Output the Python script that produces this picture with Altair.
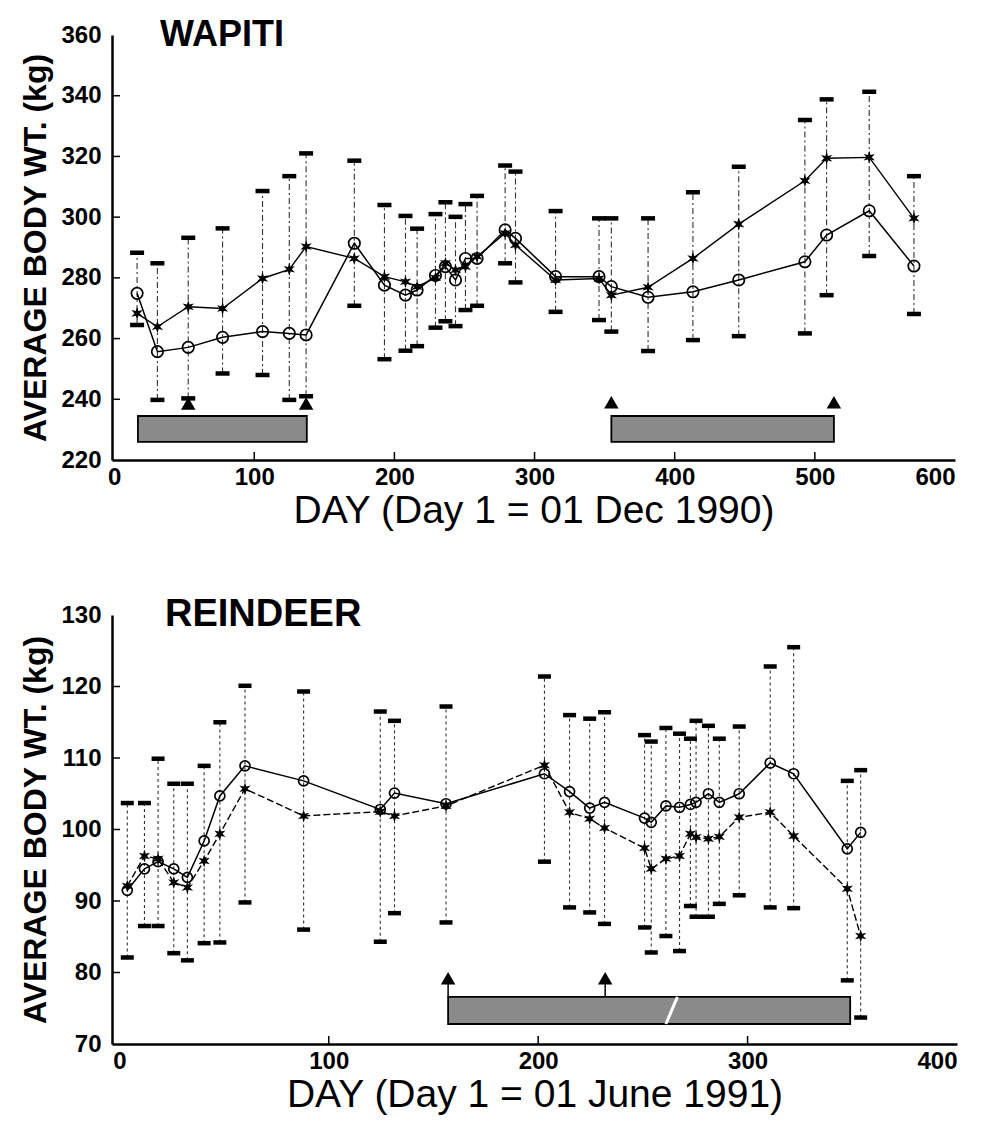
import altair as alt
import pandas as pd

FONT = "Liberation Sans"
# six-pointed star glyph used for the second series
STAR = ("M0,-1 L0.2,-0.346 L0.866,-0.5 L0.4,0 L0.866,0.5 L0.2,0.346 L0,1 "
        "L-0.2,0.346 L-0.866,0.5 L-0.4,0 L-0.866,-0.5 L-0.2,-0.346 Z")

# ---------------- Wapiti (Day 1 = 01 Dec 1990) ----------------
w_day = [16.4, 30.9, 52.9, 77.4, 105.9, 125.0, 137.0, 171.4, 192.9, 207.9, 216.2,
         229.3, 236.4, 243.6, 250.7, 259.0, 279.0, 286.4, 315.0, 346.0, 354.8,
         381.0, 413.0, 445.7, 492.9, 508.4, 538.8, 570.7]
w_circle = [274.9, 255.7, 257.1, 260.4, 262.3, 261.7, 261.2, 291.4, 277.6, 274.3,
            276.0, 280.8, 283.7, 279.3, 286.4, 286.4, 295.8, 293.0, 280.4, 280.4,
            277.1, 273.6, 275.4, 279.3, 285.3, 294.1, 302.1, 283.9]
w_star = [268.3, 263.9, 270.5, 269.9, 279.8, 282.8, 290.3, 286.4, 280.4, 278.7,
          277.1, 280.0, 284.8, 282.6, 283.7, 287.0, 294.7, 290.8, 279.3, 279.8,
          274.3, 276.9, 286.4, 297.7, 312.0, 319.4, 319.7, 299.6]
w_low = [264.5, 239.8, 240.3, 248.5, 248.0, 239.8, 241.0, 270.8, 253.2, 256.0,
         257.5, 263.6, 265.7, 264.1, 269.4, 270.8, 284.8, 278.5, 268.8, 266.1,
         262.3, 255.9, 259.5, 260.8, 261.7, 274.3, 287.2, 268.1]
w_high = [288.3, 284.8, 293.2, 296.3, 308.6, 313.5, 321.0, 318.6, 304.0, 300.4,
          296.2, 301.0, 304.9, 300.1, 304.3, 307.0, 317.0, 315.0, 302.0, 299.6,
          299.6, 299.6, 308.2, 316.6, 332.0, 338.8, 341.3, 313.5]
w_band_start = [17.0, 354.8]
w_band_end = [137.5, 513.6]
w_band_bottom = [226.0, 226.0]
w_band_top = [234.5, 234.5]
w_arrow_day = [52.9, 137.0, 354.8, 513.6]
w_arrow_val = [238.6, 238.6, 239.0, 239.0]
w_arrow_foot = [238.6, 238.6, 239.0, 239.0]
w_slash_day = []
w_slash_val = []
w_xticks = [0, 100, 200, 300, 400, 500, 600]
w_yticks = [220, 240, 260, 280, 300, 320, 340, 360]

# ---------------- Reindeer (Day 1 = 01 June 1991) ----------------
r_day = [3.8, 12.0, 18.5, 26.0, 32.5, 40.5, 48.0, 60.0, 88.0, 124.6, 131.4, 156.0,
         203.0, 215.0, 224.6, 231.7, 250.8, 254.0, 261.0, 267.5, 272.7, 275.4,
         281.3, 286.5, 296.0, 310.8, 322.0, 347.6, 354.0]
r_circle = [91.5, 94.5, 95.5, 94.5, 93.3, 98.4, 104.7, 108.9, 106.8, 102.8, 105.1,
            103.6, 107.8, 105.3, 103.0, 103.8, 101.6, 101.0, 103.3, 103.1, 103.5,
            103.8, 105.0, 103.8, 105.0, 109.3, 107.8, 97.3, 99.6]
r_star = [92.1, 96.3, 95.9, 92.6, 91.9, 95.6, 99.4, 105.7, 101.9, 102.5, 101.9,
          103.3, 109.0, 102.4, 101.5, 100.2, 97.4, 94.5, 95.9, 96.3, 99.4, 98.9,
          98.7, 99.0, 101.7, 102.4, 99.1, 91.7, 85.1]
r_low = [82.1, 86.5, 86.5, 82.7, 81.7, 84.1, 84.2, 89.8, 86.0, 84.3, 88.3, 87.0,
         95.5, 89.1, 88.4, 86.8, 86.3, 82.8, 85.1, 83.0, 89.3, 87.8, 87.8, 89.6,
         90.8, 89.1, 89.0, 78.9, 73.7]
r_high = [103.7, 103.7, 109.9, 106.4, 106.4, 108.9, 115.0, 120.1, 119.3, 116.5,
          115.2, 117.2, 121.4, 116.0, 115.5, 116.4, 113.2, 112.3, 114.2, 113.4,
          112.7, 115.2, 114.5, 112.7, 114.4, 122.8, 125.5, 106.8, 108.3]
r_band_start = [157.0]
r_band_end = [349.0]
r_band_bottom = [72.8]
r_band_top = [76.6]
r_arrow_day = [157.0, 232.0]
r_arrow_val = [79.2, 79.2]
r_arrow_foot = [76.6, 76.6]
r_slash_day = [261.0, 266.5]
r_slash_val = [72.8, 76.6]
r_xticks = [0, 100, 200, 300, 400]
r_yticks = [70, 80, 90, 100, 110, 120, 130]


def panel(name, name_size, name_x, xtitle, day, circ, star, low, high,
          b_start, b_end, b_bot, b_top, a_day, a_val, a_foot, s_day, s_val,
          xticks, yticks, x_start, w, h, cap_w, circ_size, star_dashed, err_dash):
    xs = alt.Scale(domain=[x_start, xticks[-1]], nice=False, zero=False)
    ys = alt.Scale(domain=[yticks[0], yticks[-1]], nice=False, zero=False)
    xaxis = alt.Axis(values=xticks, title=xtitle)
    yaxis = alt.Axis(values=yticks, title="AVERAGE BODY WT. (kg)")

    def X(f):
        return alt.X(f, type="quantitative", scale=xs, axis=xaxis)

    def Y(f):
        return alt.Y(f, type="quantitative", scale=ys, axis=yaxis)

    df = pd.DataFrame({"day": day, "circle": circ, "star": star,
                       "low": low, "high": high})
    bands = pd.DataFrame({"s": b_start, "e": b_end, "b": b_bot, "t": b_top})
    arrows = pd.DataFrame({"day": a_day, "v": a_val, "foot": a_foot})
    xt = pd.DataFrame({"v": xticks[1:-1]})
    yt = pd.DataFrame({"v": yticks[1:-1]})
    label = pd.DataFrame({"t": [name]})

    base = alt.Chart(df)
    err = base.mark_rule(color="#333333", strokeWidth=1.1, strokeDash=err_dash).encode(
        x=X("day"), y=Y("low"), y2="high")
    cap_lo = base.mark_tick(orient="horizontal", size=cap_w, thickness=4.5,
                            color="black", opacity=1).encode(x=X("day"), y=Y("low"))
    cap_hi = base.mark_tick(orient="horizontal", size=cap_w, thickness=4.5,
                            color="black", opacity=1).encode(x=X("day"), y=Y("high"))
    line_c = base.mark_line(color="black", strokeWidth=1.5).encode(x=X("day"), y=Y("circle"))
    if star_dashed:
        line_s = base.mark_line(color="black", strokeWidth=1.4, strokeDash=[7, 3])
    else:
        line_s = base.mark_line(color="black", strokeWidth=1.4)
    line_s = line_s.encode(x=X("day"), y=Y("star"))
    pt_c = base.mark_point(shape="circle", size=circ_size, filled=False, color="black",
                           strokeWidth=1.7, opacity=1).encode(x=X("day"), y=Y("circle"))
    pt_s = base.mark_point(shape=STAR, size=170, filled=True, color="black",
                           opacity=1).encode(x=X("day"), y=Y("star"))
    band = alt.Chart(bands).mark_rect(fill="#8a8a8a", stroke="black", strokeWidth=1.8).encode(
        x=X("s"), x2="e", y=Y("b"), y2="t")
    stem = alt.Chart(arrows).mark_rule(color="black", strokeWidth=1.5).encode(
        x=X("day"), y=Y("v"), y2="foot")
    arrow = alt.Chart(arrows).mark_point(shape="triangle-up", size=210, filled=True,
                                         color="black", opacity=1).encode(x=X("day"), y=Y("v"))
    # inward tick marks along both axes
    xtick = alt.Chart(xt).mark_rule(color="black", strokeWidth=1.5).encode(
        x=X("v"), y=alt.value(h), y2=alt.value(h - 8))
    ytick = alt.Chart(yt).mark_rule(color="black", strokeWidth=1.5).encode(
        y=Y("v"), x=alt.value(0), x2=alt.value(8))
    title = alt.Chart(label).mark_text(font=FONT, fontSize=name_size, fontWeight="bold",
                                       align="left", baseline="alphabetic",
                                       color="black").encode(
        text="t:N", x=alt.value(name_x), y=alt.value(11))

    layers = [band]
    if s_day:
        slash = pd.DataFrame({"d0": [s_day[0]], "d1": [s_day[1]],
                              "v0": [s_val[0]], "v1": [s_val[1]]})
        layers.append(alt.Chart(slash).mark_rule(color="white", strokeWidth=3).encode(
            x=X("d0"), x2="d1", y=Y("v0"), y2="v1"))
    layers += [err, cap_lo, cap_hi, line_c, line_s, pt_c, pt_s, stem, arrow,
               xtick, ytick, title]
    return alt.layer(*layers).properties(width=w, height=h)


top = panel("WAPITI", 36, 48, "DAY (Day 1 = 01 Dec 1990)", w_day, w_circle, w_star, w_low, w_high,
            w_band_start, w_band_end, w_band_bottom, w_band_top,
            w_arrow_day, w_arrow_val, w_arrow_foot, w_slash_day, w_slash_val,
            w_xticks, w_yticks, -1.5, 843, 425, 14, 130, False, [6, 3, 2, 3])
bottom = panel("REINDEER", 38, 53, "DAY (Day 1 = 01 June 1991)", r_day, r_circle, r_star,
               r_low, r_high,
               r_band_start, r_band_end, r_band_bottom, r_band_top,
               r_arrow_day, r_arrow_val, r_arrow_foot, r_slash_day, r_slash_val,
               r_xticks, r_yticks, -3.5, 845, 429, 13, 100, True, [3, 3])

chart = alt.vconcat(top, bottom, spacing=66).properties(
    padding={"left": 19, "top": 17, "right": 8, "bottom": 5},
    background="white",
).configure_view(stroke=None).configure_axis(
    domainColor="black", domainWidth=2.5, ticks=False, grid=False,
    labelFont=FONT, labelFontSize=24, labelFontWeight="bold", labelColor="black",
    titleFont=FONT, titleColor="black",
).configure_axisY(
    labelPadding=11, titleFontSize=32, titleFontWeight="bold", titlePadding=8,
).configure_axisX(
    labelPadding=5, titleFontSize=39, titleFontWeight="normal", titlePadding=2,
)

chart.save("out.html", embed_options={"renderer": "svg", "actions": False})
